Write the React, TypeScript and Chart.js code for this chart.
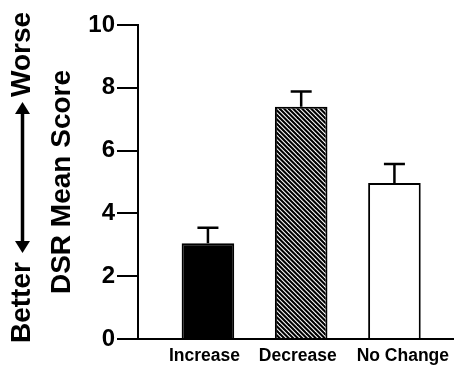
import React, { useEffect, useRef } from 'react';
import { Chart, registerables } from 'chart.js';

Chart.register(...registerables);

// ---- data ----
const categories = ['Increase', 'Decrease', 'No Change'];
const meanScores = [3.05, 7.4, 4.97];
const errorUp = [0.49, 0.48, 0.6];
const yTicks = [0, 2, 4, 6, 8, 10];
const yTitle = 'DSR Mean Score';
const directionLabels = ['Better', 'Worse'];
// small label nudges (in category units) to mimic the original's label placement
const labelNudge = [-0.037, -0.037, 0.09];

const FONT = '"Liberation Sans", Arial, Helvetica, sans-serif';

function makeHatch(): CanvasPattern | string {
  const size = 9;
  const c = document.createElement('canvas');
  c.width = size;
  c.height = size;
  const g = c.getContext('2d');
  if (!g) return '#888';
  g.fillStyle = '#fff';
  g.fillRect(0, 0, size, size);
  g.strokeStyle = '#000';
  g.lineWidth = 2.1;
  const step = 4.5;
  for (let k = -3; k <= 3; k++) {
    const off = k * step;
    g.beginPath();
    g.moveTo(off - 2, -2);
    g.lineTo(off + size + 2, size + 2);
    g.stroke();
  }
  return g.createPattern(c, 'repeat') || '#888';
}

const errorBarPlugin = {
  id: 'errorBars',
  afterDatasetsDraw(chart: any) {
    const meta = chart.getDatasetMeta(0);
    const yScale = chart.scales.y;
    const ctx = chart.ctx;
    const capHalf = 10.5;
    ctx.save();
    ctx.strokeStyle = '#000';
    ctx.lineWidth = 2.5;
    meta.data.forEach((bar: any, i: number) => {
      const x = bar.x;
      const yTop = yScale.getPixelForValue(meanScores[i]);
      const yErr = yScale.getPixelForValue(meanScores[i] + errorUp[i]);
      ctx.beginPath();
      ctx.moveTo(x, yTop);
      ctx.lineTo(x, yErr);
      ctx.moveTo(x - capHalf, yErr);
      ctx.lineTo(x + capHalf, yErr);
      ctx.stroke();
    });
    ctx.restore();
  },
};

const directionPlugin = {
  id: 'direction',
  afterDraw(chart: any) {
    const ctx = chart.ctx;
    const cx = 22.5;
    ctx.save();
    ctx.fillStyle = '#000';
    ctx.strokeStyle = '#000';
    ctx.font = `bold 28px ${FONT}`;
    ctx.textBaseline = 'middle';
    ctx.textAlign = 'left';
    // Better (bottom)
    ctx.save();
    ctx.translate(cx, 343);
    ctx.rotate(-Math.PI / 2);
    ctx.fillText(directionLabels[0], 0, 0);
    ctx.restore();
    // Worse (top)
    ctx.save();
    ctx.translate(cx, 97);
    ctx.rotate(-Math.PI / 2);
    ctx.fillText(directionLabels[1], 0, 0);
    ctx.restore();
    // double-headed arrow
    const top = 102;
    const bottom = 253;
    const head = 12;
    const hw = 7.5;
    ctx.lineWidth = 3.5;
    ctx.beginPath();
    ctx.moveTo(cx, top + head - 1);
    ctx.lineTo(cx, bottom - head + 1);
    ctx.stroke();
    ctx.beginPath();
    ctx.moveTo(cx, top);
    ctx.lineTo(cx - hw, top + head);
    ctx.lineTo(cx + hw, top + head);
    ctx.closePath();
    ctx.fill();
    ctx.beginPath();
    ctx.moveTo(cx, bottom);
    ctx.lineTo(cx - hw, bottom - head);
    ctx.lineTo(cx + hw, bottom - head);
    ctx.closePath();
    ctx.fill();
    ctx.restore();
  },
};

export default function App() {
  const canvasRef = useRef<HTMLCanvasElement | null>(null);

  useEffect(() => {
    const canvas = canvasRef.current;
    if (!canvas) return;
    const hatch = makeHatch();
    const chart = new Chart(canvas, {
      type: 'bar',
      data: {
        datasets: [
          {
            data: categories.map((_, i) => ({ x: i + 1, y: meanScores[i] })),
            backgroundColor: ['#000', hatch, '#fff'],
            borderColor: '#000',
            borderWidth: 2,
            categoryPercentage: 1,
            barPercentage: 0.564,
          },
        ],
      } as any,
      options: {
        animation: false,
        responsive: true,
        maintainAspectRatio: false,
        layout: { padding: { top: 25, left: 0, right: 0, bottom: 0 } },
        plugins: {
          legend: { display: false },
          tooltip: { enabled: false },
        },
        scales: {
          x: {
            type: 'linear',
            min: 0.25,
            max: 3.633,
            bounds: 'data',
            offset: false,
            grid: { display: false, drawTicks: false },
            border: { display: true, color: '#000', width: 2 },
            afterBuildTicks: (s: any) => {
              s.ticks = categories.map((_, i) => ({ value: i + 1 + labelNudge[i] }));
            },
            afterFit: (s: any) => {
              s.height = 28;
            },
            ticks: {
              callback: (_v: any, i: number) => categories[i],
              font: { family: FONT, size: 17.5, weight: 'bold' },
              color: '#000',
              padding: 7,
              maxRotation: 0,
              autoSkip: false,
            },
          },
          y: {
            min: 0,
            max: 10,
            afterBuildTicks: (s: any) => {
              s.ticks = yTicks.map((v) => ({ value: v }));
            },
            afterFit: (s: any) => {
              s.width = 138;
            },
            grid: {
              display: true,
              drawOnChartArea: false,
              drawTicks: true,
              tickLength: 21,
              color: '#000',
              lineWidth: 2,
            },
            border: { display: true, color: '#000', width: 2 },
            ticks: {
              font: { family: FONT, size: 24, weight: 'bold' },
              color: '#000',
              padding: 2,
            },
            title: {
              display: true,
              text: yTitle,
              font: { family: FONT, size: 28, weight: 'bold' },
              color: '#000',
              padding: { top: 45, bottom: 0 },
            },
          },
        },
      } as any,
      plugins: [errorBarPlugin, directionPlugin],
    });
    return () => chart.destroy();
  }, []);

  return (
    <div style={{ position: 'fixed', left: 0, top: 0, width: 456, height: 367, background: '#fff' }}>
      <canvas ref={canvasRef} />
    </div>
  );
}
